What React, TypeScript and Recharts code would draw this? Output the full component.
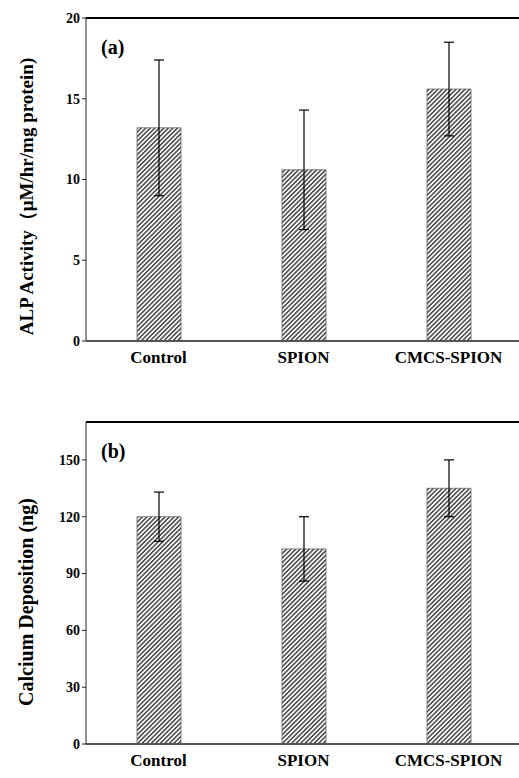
import React from "react"
import { BarChart, Bar, XAxis, YAxis, ErrorBar, ReferenceLine } from "recharts"

const categories = ["Control", "SPION", "CMCS-SPION"]
const alpMeans = [13.2, 10.6, 15.6]
const alpErrors = [4.2, 3.7, 2.9]
const alpTicks = [0, 5, 10, 15, 20]
const caMeans = [120, 103, 135]
const caErrors = [13, 17, 15]
const caTicks = [0, 30, 60, 90, 120, 150]

const alpData = categories.map((name, i) => ({ name, value: alpMeans[i], err: alpErrors[i] }))
const caData = categories.map((name, i) => ({ name, value: caMeans[i], err: caErrors[i] }))

const FONT = '"Liberation Serif", "Times New Roman", serif'

function CategoryTick({ x, y, payload }: any) {
  return (
    <text x={x} y={y + 22} textAnchor="middle" fontFamily={FONT} fontWeight="bold" fontSize={17} fill="#000">
      {payload.value}
    </text>
  )
}

function axisLabel(text: string, shift: number, size: number) {
  return ({ viewBox }: any) => {
    const cy = viewBox.y + viewBox.height / 2 + shift
    return (
      <text
        x={26}
        y={cy}
        transform={`rotate(-90, 26, ${cy})`}
        textAnchor="middle"
        dominantBaseline="central"
        fontFamily={FONT}
        fontWeight="bold"
        fontSize={size}
        fill="#000"
      >
        {text}
      </text>
    )
  }
}

function panelTag(text: string) {
  return ({ viewBox }: any) => (
    <text x={viewBox.x + 15} y={viewBox.y + 36} fontFamily={FONT} fontWeight="bold" fontSize={20} fill="#000">
      {text}
    </text>
  )
}

function Hatch({ id }: { id: string }) {
  return (
    <defs>
      <pattern id={id} patternUnits="userSpaceOnUse" width={3.2} height={3.2} patternTransform="rotate(-45)">
        <rect width={3.2} height={3.2} fill="#fff" />
        <line x1={0} y1={1.6} x2={3.2} y2={1.6} stroke="#000" strokeWidth={1.1} />
      </pattern>
    </defs>
  )
}

type PanelProps = {
  data: { name: string; value: number; err: number }[]
  ticks: number[]
  max: number
  height: number
  top: number
  xHeight: number
  label: string
  labelShift: number
  labelSize: number
  tag: string
  id: string
}

function Panel({ data, ticks, max, height, top, xHeight, label, labelShift, labelSize, tag, id }: PanelProps) {
  return (
    <BarChart width={525} height={height} data={data} margin={{ top, right: 4, bottom: 0, left: 0 }}>
      <Hatch id={id} />
      <XAxis
        dataKey="name"
        height={xHeight}
        tickSize={0}
        tickMargin={0}
        tickLine={false}
        axisLine={{ stroke: "#555", strokeWidth: 2 }}
        tick={<CategoryTick />}
        interval={0}
      />
      <YAxis
        width={86}
        domain={[0, max]}
        ticks={ticks}
        interval={0}
        tickSize={4}
        tickMargin={2}
        axisLine={{ stroke: "#222", strokeWidth: 1 }}
        tickLine={{ stroke: "#222" }}
        tick={{ fontFamily: FONT, fontWeight: "bold", fontSize: 14, fill: "#000" }}
        label={axisLabel(label, labelShift, labelSize)}
      />
      <ReferenceLine y={max} stroke="#000" strokeWidth={2} label={panelTag(tag)} />
      <Bar dataKey="value" barSize={44} fill={`url(#${id})`} stroke="#666" strokeWidth={0.8} isAnimationActive={false}>
        <ErrorBar dataKey="err" width={5} stroke="#000" strokeWidth={1.2} direction="y" />
      </Bar>
    </BarChart>
  )
}

export default function App() {
  return (
    <div style={{ position: "absolute", left: 0, top: 0, width: 519, height: 778, overflow: "hidden", background: "#fff" }}>
      <Panel
        data={alpData}
        ticks={alpTicks}
        max={20}
        height={390}
        top={18}
        xHeight={49}
        label="ALP Activity（μM/hr/mg protein)"
        labelShift={17}
        labelSize={19}
        tag="(a)"
        id="hatchA"
      />
      <Panel
        data={caData}
        ticks={caTicks}
        max={170}
        height={388}
        top={32}
        xHeight={34}
        label="Calcium Deposition (ng)"
        labelShift={19}
        labelSize={20}
        tag="(b)"
        id="hatchB"
      />
    </div>
  )
}
